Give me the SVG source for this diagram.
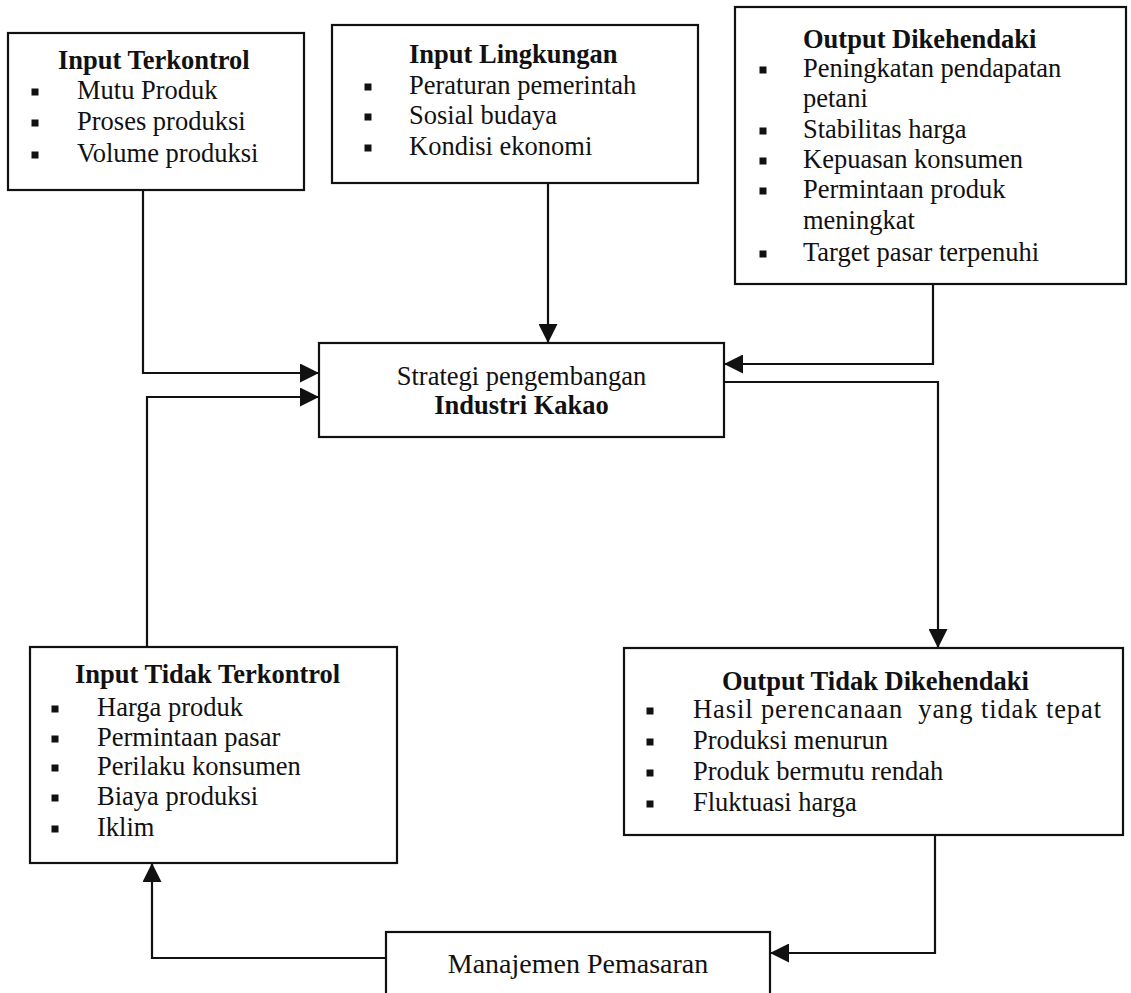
<svg xmlns="http://www.w3.org/2000/svg" width="1131" height="993" viewBox="0 0 1131 993">
<style>
text{font-family:"Liberation Serif","Times New Roman",serif;font-size:26.5px;fill:#111}
.b{font-weight:bold}
.box{fill:#fff;stroke:#111;stroke-width:2.2}
.bul{fill:#111}
.c{fill:none;stroke:#111;stroke-width:2.2}
</style>
<defs>
<marker id="arr" markerWidth="19" markerHeight="19" refX="18" refY="9.5" orient="auto" markerUnits="userSpaceOnUse"><path d="M0,0 L19,9.5 L0,19 z" fill="#111"/></marker>
<symbol id="sq" overflow="visible"><rect x="-3.5" y="-3.5" width="7" height="7"/></symbol>
</defs>
<rect width="1131" height="993" fill="#fff"/>
<g id="connectors">
<path class="c" d="M143,190 V373 H318" marker-end="url(#arr)"/>
<path class="c" d="M548,183 V342" marker-end="url(#arr)"/>
<path class="c" d="M933,284 V364 H725" marker-end="url(#arr)"/>
<path class="c" d="M724,382 H938 V647" marker-end="url(#arr)"/>
<path class="c" d="M935,835 V953 H771" marker-end="url(#arr)"/>
<path class="c" d="M386,958 H152 V864" marker-end="url(#arr)"/>
<path class="c" d="M147,647 V397 H318" marker-end="url(#arr)"/>
</g>
<g id="input-terkontrol">
<rect class="box" x="8" y="33" width="296" height="157"/>
<text class="b" x="58" y="69">Input Terkontrol</text>
<use href="#sq" x="35" y="92" class="bul"/><text x="77" y="99">Mutu Produk</text>
<use href="#sq" x="35" y="123" class="bul"/><text x="77" y="130">Proses produksi</text>
<use href="#sq" x="35" y="155" class="bul"/><text x="77" y="162">Volume produksi</text>
</g>
<g id="input-lingkungan">
<rect class="box" x="332" y="25" width="366" height="158"/>
<text class="b" x="409" y="63">Input Lingkungan</text>
<use href="#sq" x="368" y="87" class="bul"/><text x="409" y="94">Peraturan pemerintah</text>
<use href="#sq" x="368" y="117" class="bul"/><text x="409" y="124">Sosial budaya</text>
<use href="#sq" x="368" y="148" class="bul"/><text x="409" y="155">Kondisi ekonomi</text>
</g>
<g id="output-dikehendaki">
<rect class="box" x="735" y="7" width="391" height="277"/>
<text class="b" x="803" y="48">Output Dikehendaki</text>
<use href="#sq" x="763" y="70" class="bul"/><text x="803" y="77">Peningkatan pendapatan</text>
<text x="803" y="107">petani</text>
<use href="#sq" x="763" y="131" class="bul"/><text x="803" y="138">Stabilitas harga</text>
<use href="#sq" x="763" y="161" class="bul"/><text x="803" y="168">Kepuasan konsumen</text>
<use href="#sq" x="763" y="191" class="bul"/><text x="803" y="198">Permintaan produk</text>
<text x="803" y="229">meningkat</text>
<use href="#sq" x="763" y="254" class="bul"/><text x="803" y="261">Target pasar terpenuhi</text>
</g>
<g id="strategi">
<rect class="box" x="319" y="343" width="405" height="94"/>
<text x="521.5" y="385" text-anchor="middle">Strategi pengembangan</text>
<text class="b" x="521.5" y="414" text-anchor="middle">Industri Kakao</text>
</g>
<g id="input-tidak-terkontrol">
<rect class="box" x="30" y="647" width="367" height="216"/>
<text class="b" x="75" y="683">Input Tidak Terkontrol</text>
<use href="#sq" x="55" y="709" class="bul"/><text x="97" y="716">Harga produk</text>
<use href="#sq" x="55" y="739" class="bul"/><text x="97" y="746">Permintaan pasar</text>
<use href="#sq" x="55" y="768" class="bul"/><text x="97" y="775">Perilaku konsumen</text>
<use href="#sq" x="55" y="798" class="bul"/><text x="97" y="805">Biaya produksi</text>
<use href="#sq" x="55" y="829" class="bul"/><text x="97" y="836">Iklim</text>
</g>
<g id="output-tidak-dikehendaki">
<rect class="box" x="624" y="648" width="499" height="187"/>
<text class="b" x="722" y="690">Output Tidak Dikehendaki</text>
<use href="#sq" x="650" y="711" class="bul"/><text x="693" y="718" xml:space="preserve" textLength="408" lengthAdjust="spacing">Hasil perencanaan  yang tidak tepat</text>
<use href="#sq" x="650" y="742" class="bul"/><text x="693" y="749">Produksi menurun</text>
<use href="#sq" x="650" y="773" class="bul"/><text x="693" y="780">Produk bermutu rendah</text>
<use href="#sq" x="650" y="804" class="bul"/><text x="693" y="811">Fluktuasi harga</text>
</g>
<g id="manajemen-pemasaran">
<rect class="box" x="386" y="932" width="384" height="70"/>
<text x="578" y="973" text-anchor="middle" style="font-size:28px">Manajemen Pemasaran</text>
</g>
</svg>
